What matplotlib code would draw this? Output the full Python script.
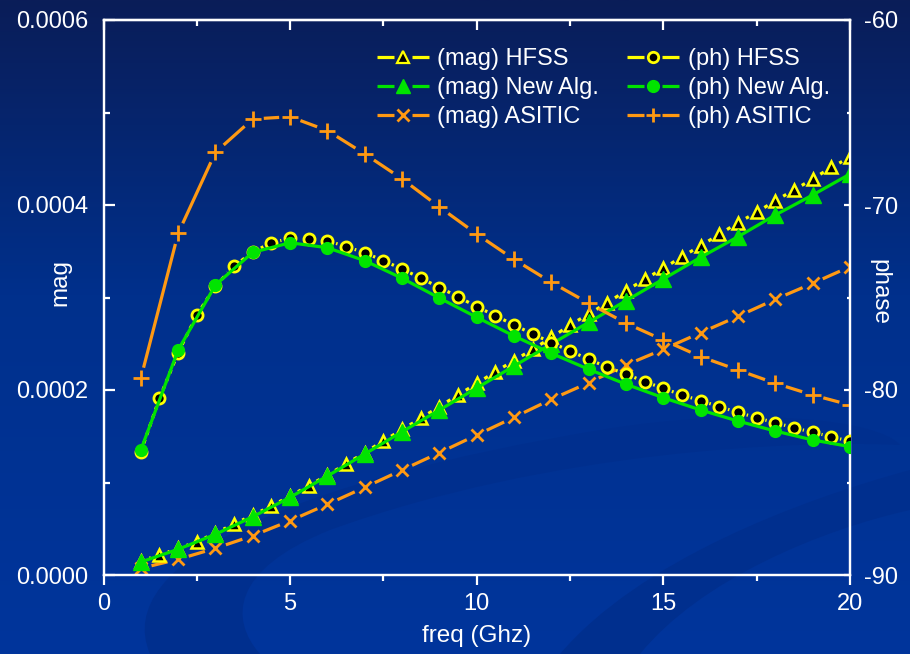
import numpy as np
import matplotlib
matplotlib.use("Agg")
import matplotlib.pyplot as plt
from matplotlib.path import Path
from matplotlib.patches import PathPatch
from matplotlib.lines import Line2D
from matplotlib.collections import LineCollection
from matplotlib.colors import LinearSegmentedColormap
from matplotlib.legend_handler import HandlerBase
from matplotlib.ticker import MultipleLocator, FormatStrFormatter

plt.rcParams['font.family'] = ['Liberation Sans', 'DejaVu Sans']
plt.rcParams['axes.unicode_minus'] = False

# ---------------- data ----------------
freq_half = [1, 1.5, 2, 2.5, 3, 3.5, 4, 4.5, 5, 5.5, 6, 6.5, 7, 7.5, 8, 8.5, 9, 9.5, 10, 10.5,
             11, 11.5, 12, 12.5, 13, 13.5, 14, 14.5, 15, 15.5, 16, 16.5, 17, 17.5, 18, 18.5,
             19, 19.5, 20]
freq_int = [1, 2, 3, 4, 5, 6, 7, 8, 9, 10, 11, 12, 13, 14, 15, 16, 17, 18, 19, 20]

mag_hfss = [1.514e-5, 2.162e-5, 2.865e-5, 3.600e-5, 4.541e-5, 5.514e-5, 6.486e-5, 7.459e-5,
            8.541e-5, 9.654e-5, 1.0811e-4, 1.2000e-4, 1.3243e-4, 1.4486e-4, 1.5730e-4,
            1.6941e-4, 1.8216e-4, 1.9459e-4, 2.0703e-4, 2.1978e-4, 2.3189e-4, 2.4400e-4,
            2.5676e-4, 2.7027e-4, 2.8216e-4, 2.9438e-4, 3.0735e-4, 3.1968e-4, 3.3157e-4,
            3.4411e-4, 3.5600e-4, 3.6832e-4, 3.8086e-4, 3.9211e-4, 4.0465e-4, 4.1622e-4,
            4.2811e-4, 4.4076e-4, 4.5157e-4]
mag_newalg = [1.405e-5, 2.778e-5, 4.400e-5, 6.303e-5, 8.400e-5, 1.0703e-4, 1.3081e-4,
              1.5492e-4, 1.7838e-4, 2.0216e-4, 2.2595e-4, 2.4973e-4, 2.7319e-4, 2.9654e-4,
              3.2000e-4, 3.4346e-4, 3.6573e-4, 3.8919e-4, 4.1081e-4, 4.3351e-4]
mag_asitic = [7.24e-6, 1.697e-5, 2.886e-5, 4.249e-5, 5.870e-5, 7.643e-5, 9.481e-5, 1.1351e-4,
              1.3222e-4, 1.5135e-4, 1.7049e-4, 1.8995e-4, 2.0789e-4, 2.2703e-4, 2.4400e-4,
              2.6195e-4, 2.7968e-4, 2.9805e-4, 3.1535e-4, 3.3330e-4]

ph_hfss = [-83.34, -80.45, -77.98, -75.95, -74.38, -73.30, -72.54, -72.04, -71.80, -71.84,
           -71.93, -72.25, -72.58, -73.01, -73.46, -73.95, -74.46, -74.96, -75.50, -75.98,
           -76.49, -76.97, -77.44, -77.89, -78.34, -78.77, -79.14, -79.55, -79.91, -80.27,
           -80.58, -80.90, -81.21, -81.50, -81.77, -82.04, -82.29, -82.52, -82.78]
ph_newalg = [-83.24, -77.84, -74.32, -72.56, -72.04, -72.31, -73.01, -73.96, -75.03, -76.07,
             -77.08, -78.02, -78.88, -79.69, -80.42, -81.08, -81.68, -82.22, -82.70, -83.06]
ph_asitic = [-79.37, -71.53, -67.15, -65.35, -65.23, -65.98, -67.24, -68.59, -70.11, -71.57,
             -72.94, -74.18, -75.31, -76.39, -77.30, -78.20, -78.92, -79.64, -80.27, -80.81]

labels = ["(mag) HFSS", "(mag) New Alg.", "(mag) ASITIC",
          "(ph) HFSS", "(ph) New Alg.", "(ph) ASITIC"]

YELLOW = "#ffff00"
GREEN = "#00e400"
ORANGE = "#ff9912"
WHITE = "white"

# ---------------- figure & background ----------------
W, H = 910, 654
fig = plt.figure(figsize=(W / 100, H / 100), dpi=100)

bg = fig.add_axes([0, 0, 1, 1], zorder=-10)
cmap = LinearSegmentedColormap.from_list("bg", [(0.0, "#0a1d58"), (0.45, "#00308c"),
                                                (1.0, "#00359c")])
grad = np.linspace(0, 1, 256).reshape(-1, 1)
bg.imshow(grad, aspect="auto", cmap=cmap, extent=[0, W, H, 0])
bg.set_xlim(0, W)
bg.set_ylim(H, 0)
bg.axis("off")


def swoosh(pts, color):
    codes = [Path.MOVETO] + [Path.CURVE4] * (len(pts) - 1)
    bg.add_patch(PathPatch(Path(pts, codes), facecolor=color, edgecolor="none"))


swoosh([(150, 654), (110, 560), (300, 480), (600, 430),
        (750, 405), (880, 420), (900, 445),
        (800, 440), (550, 450), (330, 530),
        (230, 570), (230, 620), (260, 654)], "#002f8e")
swoosh([(560, 654), (640, 560), (800, 500), (910, 470),
        (910, 490), (910, 500), (910, 510),
        (820, 530), (700, 580), (640, 654)], "#002f8e")

# ---------------- main axes ----------------
ax = fig.add_axes([103.5 / W, 1 - 575 / H, (850 - 103.5) / W, (575 - 20) / H])
ax.set_facecolor("none")
ax2 = ax.twinx()

ax.set_xlim(0, 20)
ax.set_ylim(0, 0.0006)
ax2.set_ylim(-90, -60)


def gapped_line(axis, x, y, gap, color, lw, ls="-", z=2):
    """Line between consecutive points, with a gap around every marker."""
    pts = axis.transData.transform(np.column_stack([x, y]))
    inv = axis.transData.inverted()
    segs = []
    for p0, p1 in zip(pts[:-1], pts[1:]):
        d = p1 - p0
        L = np.hypot(*d)
        if L > 2 * gap + 1:
            u = d / L
            segs.append(inv.transform(np.array([p0 + u * gap, p1 - u * gap])))
    lc = LineCollection(segs, colors=color, linewidths=lw, linestyles=ls, zorder=z,
                        capstyle="butt")
    axis.add_collection(lc)


lw = 2.3
gapped_line(ax, freq_int, mag_asitic, 11, ORANGE, lw, z=2)
ax.plot(freq_int, mag_asitic, ls="none", marker="x", ms=9, mew=2, mec=ORANGE, zorder=2.5)
gapped_line(ax, freq_half, mag_hfss, 9, YELLOW, lw, z=3)
ax.plot(freq_half, mag_hfss, ls="none", marker="^", ms=9, mfc="black", mec=YELLOW,
        mew=1.8, zorder=3.5)
ax.plot(freq_int, mag_newalg, color=GREEN, lw=lw, ls="-", zorder=4)
ax.plot(freq_int, mag_newalg, ls="none", marker="^", ms=11.5, mfc=GREEN, mec=GREEN,
        mew=1, zorder=4.5)

gapped_line(ax2, freq_int, ph_asitic, 11, ORANGE, lw, z=2)
ax2.plot(freq_int, ph_asitic, ls="none", marker="+", ms=11, mew=2, mec=ORANGE, zorder=2.5)
gapped_line(ax2, freq_half, ph_hfss, 9, YELLOW, lw, ls=(0, (1.2, 1.6)), z=3)
ax2.plot(freq_half, ph_hfss, ls="none", marker="o", ms=8, mfc="black", mec=YELLOW, mew=2,
         zorder=3.5)
ax2.plot(freq_int, ph_newalg, color=GREEN, lw=lw, ls="-", zorder=4)
ax2.plot(freq_int, ph_newalg, ls="none", marker="o", ms=8.5, mfc=GREEN, mec=GREEN, mew=1,
         zorder=4.5)

ax.xaxis.set_major_locator(MultipleLocator(5))
ax.xaxis.set_minor_locator(MultipleLocator(2.5))
ax.yaxis.set_major_locator(MultipleLocator(0.0002))
ax.yaxis.set_minor_locator(MultipleLocator(0.0001))
ax.yaxis.set_major_formatter(FormatStrFormatter("%.4f"))
ax2.yaxis.set_major_locator(MultipleLocator(10))
ax2.yaxis.set_minor_locator(MultipleLocator(5))
ax2.yaxis.set_major_formatter(FormatStrFormatter("%d"))

fs = 17
for a in (ax, ax2):
    for s in a.spines.values():
        s.set_color(WHITE)
        s.set_linewidth(1.6)

ax.tick_params(axis="x", which="major", direction="out", length=7, width=1.6,
               colors=WHITE, labelsize=fs, pad=6, top=False)
ax.tick_params(axis="x", which="minor", direction="out", length=4, width=1.6,
               colors=WHITE, top=False)
ax.tick_params(axis="y", which="major", direction="in", length=8, width=1.6,
               colors=WHITE, labelsize=fs, pad=11)
ax.tick_params(axis="y", which="minor", direction="in", length=4, width=1.6,
               colors=WHITE)
ax2.tick_params(axis="y", which="major", direction="in", length=4, width=1.6,
                colors=WHITE, labelsize=fs, pad=10)
ax2.tick_params(axis="y", which="minor", direction="in", length=2.5, width=1.6,
                colors=WHITE)

secx = ax.secondary_xaxis("top")
secx.xaxis.set_major_locator(MultipleLocator(5))
secx.xaxis.set_minor_locator(MultipleLocator(2.5))
secx.tick_params(axis="x", which="major", direction="in", length=7, width=1.6,
                 colors=WHITE, labeltop=False)
secx.tick_params(axis="x", which="minor", direction="in", length=4, width=1.6,
                 colors=WHITE)
secx.spines["top"].set_color(WHITE)
secx.spines["top"].set_linewidth(1.6)

ax.set_xlabel("freq (Ghz)", color=WHITE, fontsize=17.5, labelpad=7)
ax.set_ylabel("mag", color=WHITE, fontsize=17.5, va="center")
ax.yaxis.set_label_coords((60 - 103.5) / (850 - 103.5), (575 - 283) / 555)
ax2.set_ylabel("phase", color=WHITE, fontsize=17.5, rotation=270, va="center")
ax2.yaxis.set_label_coords((879 - 103.5) / (850 - 103.5), (575 - 292) / 555)


# legend handles: "—marker—" with a gap around the marker
class GapHandler(HandlerBase):
    def create_artists(self, legend, orig, xdescent, ydescent, width, height,
                       fontsize, trans):
        y = height / 2 - ydescent
        x0 = -xdescent
        xc = x0 + width / 2
        g = 6.5
        kw = dict(color=orig.get_color(), lw=orig.get_linewidth(),
                  solid_capstyle="butt")
        l1 = Line2D([x0, xc - g], [y, y], **kw)
        l2 = Line2D([xc + g, x0 + width], [y, y], **kw)
        m = Line2D([xc], [y], ls="none", marker=orig.get_marker(),
                   ms=orig.get_markersize(), mfc=orig.get_markerfacecolor(),
                   mec=orig.get_markeredgecolor(), mew=orig.get_markeredgewidth())
        for a in (l1, l2, m):
            a.set_transform(trans)
        return [l1, l2, m]


proxies = [
    Line2D([], [], color=YELLOW, lw=lw, marker="^", ms=8, mfc="black", mec=YELLOW, mew=1.6),
    Line2D([], [], color=GREEN, lw=lw, marker="^", ms=10, mfc=GREEN, mec=GREEN, mew=1),
    Line2D([], [], color=ORANGE, lw=lw, marker="x", ms=9, mew=2, mec=ORANGE),
    Line2D([], [], color=YELLOW, lw=lw, marker="o", ms=7.5, mfc="black", mec=YELLOW, mew=2),
    Line2D([], [], color=GREEN, lw=lw, marker="o", ms=8.5, mfc=GREEN, mec=GREEN, mew=1),
    Line2D([], [], color=ORANGE, lw=lw, marker="+", ms=10, mew=2, mec=ORANGE),
]
leg = ax2.legend(proxies, labels, ncol=2, loc="upper left",
                 bbox_to_anchor=((377 - 103.5) / (850 - 103.5), (575 - 48) / 555),
                 frameon=False, fontsize=17, numpoints=1, handlelength=2.2,
                 handletextpad=0.35, columnspacing=1.2, labelspacing=0.3,
                 borderaxespad=0, borderpad=0,
                 handler_map={Line2D: GapHandler()})
for t in leg.get_texts():
    t.set_color(WHITE)

fig.savefig("out.png", dpi=100, facecolor=fig.get_facecolor())
